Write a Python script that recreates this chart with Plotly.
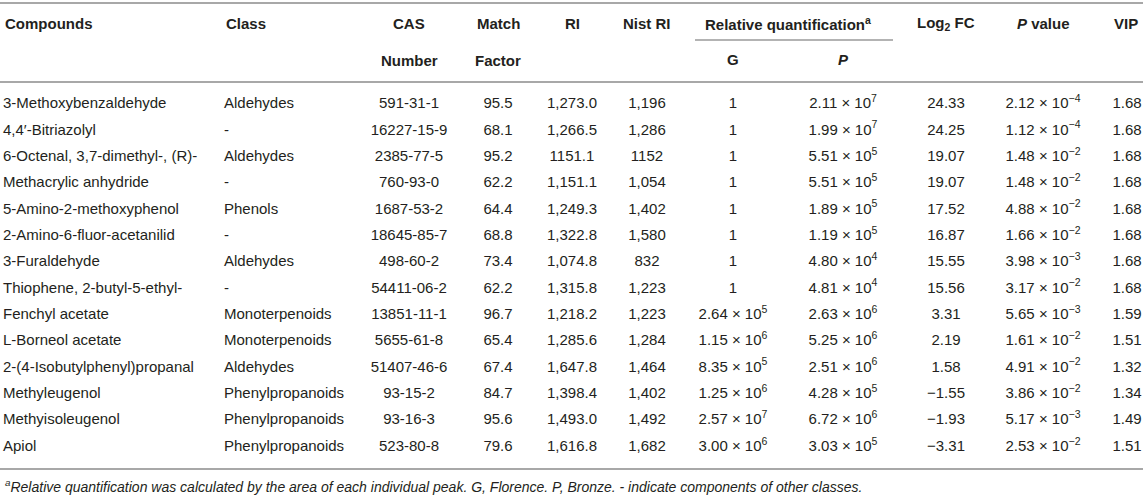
import plotly.graph_objects as go

# table contents
compounds = [
    "3-Methoxybenzaldehyde", "4,4′-Bitriazolyl", "6-Octenal, 3,7-dimethyl-, (R)-",
    "Methacrylic anhydride", "5-Amino-2-methoxyphenol", "2-Amino-6-fluor-acetanilid",
    "3-Furaldehyde", "Thiophene, 2-butyl-5-ethyl-", "Fenchyl acetate",
    "L-Borneol acetate", "2-(4-Isobutylphenyl)propanal", "Methyleugenol",
    "Methyisoleugenol", "Apiol",
]
classes = [
    "Aldehydes", "-", "Aldehydes", "-", "Phenols", "-", "Aldehydes", "-",
    "Monoterpenoids", "Monoterpenoids", "Aldehydes", "Phenylpropanoids",
    "Phenylpropanoids", "Phenylpropanoids",
]
cas_numbers = [
    "591-31-1", "16227-15-9", "2385-77-5", "760-93-0", "1687-53-2", "18645-85-7",
    "498-60-2", "54411-06-2", "13851-11-1", "5655-61-8", "51407-46-6", "93-15-2",
    "93-16-3", "523-80-8",
]
match_factor = [95.5, 68.1, 95.2, 62.2, 64.4, 68.8, 73.4, 62.2, 96.7, 65.4, 67.4, 84.7, 95.6, 79.6]
# RI columns kept as printed (the source mixes "1151.1" and "1,151.1")
ri = ["1,273.0", "1,266.5", "1151.1", "1,151.1", "1,249.3", "1,322.8", "1,074.8",
      "1,315.8", "1,218.2", "1,285.6", "1,647.8", "1,398.4", "1,493.0", "1,616.8"]
nist_ri = ["1,196", "1,286", "1152", "1,054", "1,402", "1,580", "832",
           "1,223", "1,223", "1,284", "1,464", "1,402", "1,492", "1,682"]
quant_g = [1, 1, 1, 1, 1, 1, 1, 1, 2.64e5, 1.15e6, 8.35e5, 1.25e6, 2.57e7, 3.00e6]
quant_p = [2.11e7, 1.99e7, 5.51e5, 5.51e5, 1.89e5, 1.19e5, 4.80e4, 4.81e4,
           2.63e6, 5.25e6, 2.51e6, 4.28e5, 6.72e6, 3.03e5]
log2_fc = [24.33, 24.25, 19.07, 19.07, 17.52, 16.87, 15.55, 15.56, 3.31, 2.19, 1.58, -1.55, -1.93, -3.31]
p_value = [2.12e-4, 1.12e-4, 1.48e-2, 1.48e-2, 4.88e-2, 1.66e-2, 3.98e-3, 3.17e-2,
           5.65e-3, 1.61e-2, 4.91e-2, 3.86e-2, 5.17e-3, 2.53e-2]
vip = [1.68, 1.68, 1.68, 1.68, 1.68, 1.68, 1.68, 1.68, 1.59, 1.51, 1.32, 1.34, 1.49, 1.51]

footnote = ("<i><sup>a</sup>Relative quantification was calculated by the area of each "
            "individual peak. G, Florence. P, Bronze. - indicate components of other classes.</i>")


def sci(v):
    if v == 1:
        return "1"
    mant, exp = f"{v:.2e}".split("e")
    exp = int(exp)
    exp_s = str(exp) if exp >= 0 else "\u2212" + str(-exp)
    return f"{mant} \u00d7 10<sup>{exp_s}</sup>"


def signed(v):
    return f"{v:.2f}" if v >= 0 else "\u2212" + f"{-v:.2f}"


W, H = 1143, 496
FONT = "Liberation Sans, Arial, sans-serif"
TXT = "#231f20"
RULE = "#a8a8a8"

row0, row_h = 104.5, 26.35
rows_y = [row0 + i * row_h for i in range(len(compounds))]

# (x, anchor, cell texts)
columns = [
    (3, "left", compounds),
    (224, "left", classes),
    (409, "center", cas_numbers),
    (498, "center", [f"{v:.1f}" for v in match_factor]),
    (572, "center", ri),
    (647, "center", nist_ri),
    (733, "center", [sci(v) for v in quant_g]),
    (843, "center", [sci(v) for v in quant_p]),
    (946, "center", [signed(v) for v in log2_fc]),
    (1043, "center", [sci(v) for v in p_value]),
    (1127, "center", [f"{v:.2f}" for v in vip]),
]

fig = go.Figure()
for x, anchor, texts in columns:
    fig.add_trace(go.Scatter(
        x=[x] * len(texts), y=rows_y, text=texts, mode="text",
        textposition="middle right" if anchor == "left" else "middle center",
        textfont=dict(family=FONT, size=15, color=TXT),
        hoverinfo="skip", showlegend=False,
    ))

# header cells
headers = [
    (3, 23, "left", "Compounds"),
    (224, 23, "left", "Class"),
    (409, 23, "center", "CAS"),
    (409, 60, "center", "Number"),
    (498, 23, "center", "Match"),
    (498, 60, "center", "Factor"),
    (572, 23, "center", "RI"),
    (647, 23, "center", "Nist RI"),
    (788, 23, "center", "Relative quantification<sup>a</sup>"),
    (733, 59, "center", "G"),
    (843, 59, "center", "<i>P</i>"),
    (946, 23, "center", "Log<sub>2</sub> FC"),
    (1043, 23, "center", "<i>P</i> value"),
    (1126, 23, "center", "VIP"),
]
for x, y, anchor, t in headers:
    fig.add_annotation(
        x=x, y=y, text=f"<b>{t}</b>", showarrow=False,
        xanchor=anchor, yanchor="middle",
        font=dict(family=FONT, size=15, color=TXT),
    )

fig.add_annotation(
    x=3, y=486, text=footnote, showarrow=False, xanchor="left", yanchor="middle",
    font=dict(family=FONT, size=14, color=TXT),
)

# rules
for y, x0, x1, w, c in [(3, 0, W, 2, RULE), (82, 0, W, 2, RULE),
                        (40, 695, 893, 1.3, "#9a9a9a"), (469, 0, W, 2, RULE)]:
    fig.add_shape(type="line", x0=x0, x1=x1, y0=y, y1=y, xref="x", yref="y",
                  line=dict(color=c, width=w))

fig.update_xaxes(range=[0, W], visible=False, fixedrange=True)
fig.update_yaxes(range=[H, 0], visible=False, fixedrange=True)
fig.update_layout(
    width=W, height=H,
    margin=dict(l=0, r=0, t=0, b=0),
    paper_bgcolor="white", plot_bgcolor="white",
)

# drop the browser's default 8px body margin so the table fills the window
fig.write_html(
    "out.html",
    config={"displayModeBar": False},
    post_script="document.body.style.margin='0';document.body.style.overflow='hidden';",
)
